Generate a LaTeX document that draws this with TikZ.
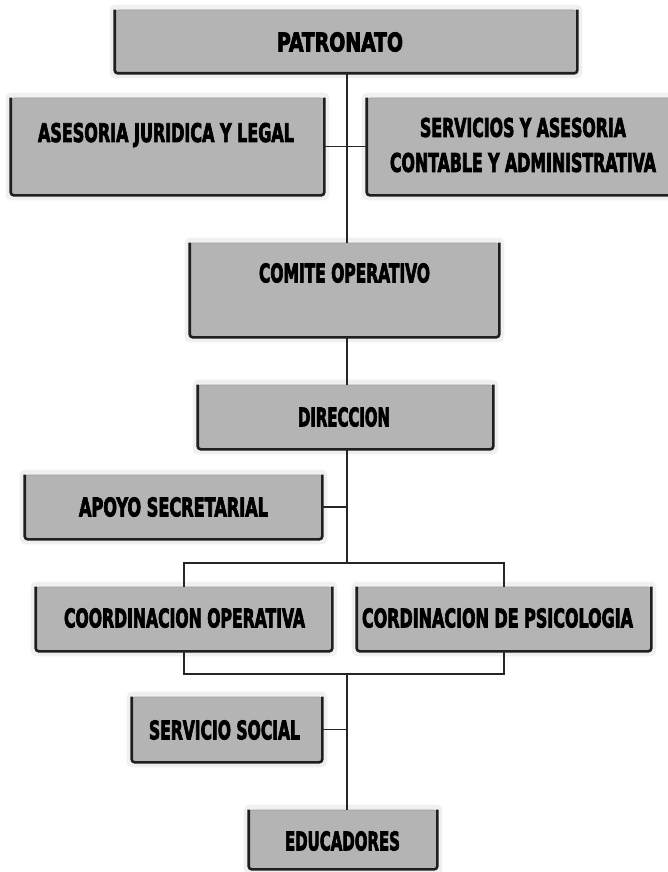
\documentclass[tikz,border=0pt]{standalone}
\usepackage{fontspec}
\usepackage{graphicx}
\usetikzlibrary{backgrounds}
\newfontfamily\boxfont[FakeBold=3.5]{DejaVu Sans Condensed Bold}
\newcommand{\lbl}[2]{\resizebox{#1pt}{19pt}{\boxfont #2}}
\definecolor{boxgray}{RGB}{180,180,180}
\begin{document}
\begin{tikzpicture}[x=1pt,y=-1pt,
  box/.style={fill=boxgray, draw=gray!75, line width=0.6pt, rounded corners=3pt, inner sep=0pt},
  boxedge/.style={line width=2.6pt, draw=black!88, rounded corners=3pt},
  halo/.style={fill=black!6, rounded corners=5pt},
  txt/.style={inner sep=0pt, text=black},
  link/.style={line width=1.1pt, draw=black!85}]
\useasboundingbox (0,0) rectangle (668,872);
\clip (0,0) rectangle (668,872);

% boxes
\node[box, minimum width=462pt, minimum height=63pt] (pat) at (346,41.5) {};
\node[box, minimum width=313pt, minimum height=97pt] (ase) at (167.5,146.5) {};
\node[box, minimum width=304pt, minimum height=97pt] (ser) at (519,146.5) {};
\node[box, minimum width=309pt, minimum height=94pt] (com) at (344.5,290) {};
\node[box, minimum width=295pt, minimum height=64pt] (dir) at (345.5,417) {};
\node[box, minimum width=297pt, minimum height=64pt] (apo) at (173.5,507) {};
\node[box, minimum width=296pt, minimum height=64pt] (cop) at (184,619) {};
\node[box, minimum width=294pt, minimum height=64pt] (cps) at (504,619) {};
\node[box, minimum width=190pt, minimum height=65pt] (ssoc) at (227,729.5) {};
\node[box, minimum width=188pt, minimum height=59pt] (edu) at (343,839.5) {};

% faint halos and dark edges
\begin{scope}[on background layer]
\foreach \n in {pat,ase,ser,com,dir,apo,cop,cps,ssoc,edu}
  \fill[halo] ([shift={(-5,-5)}]\n.north west) rectangle ([shift={(5,5)}]\n.south east);
\end{scope}
\foreach \n in {pat,ase,ser,com,dir,apo,cop,cps,ssoc,edu}
  \draw[boxedge] (\n.north west) -- (\n.south west) -- (\n.south east) -- (\n.north east);

% texts
\node[txt] (patT) at (340,42) {\lbl{126}{PATRONATO}};
\node[txt] (aseT) at (166,135) {\lbl{256}{ASESORIA JURIDICA Y LEGAL}};
\node[txt] (serT1) at (523,127.5) {\lbl{206}{SERVICIOS Y ASESORIA}};
\node[txt] (serT2) at (523,162.5) {\lbl{266}{CONTABLE Y ADMINISTRATIVA}};
\node[txt] (comT) at (344.5,273) {\lbl{171}{COMITE OPERATIVO}};
\node[txt] (dirT) at (344,417) {\lbl{92}{DIRECCION}};
\node[txt] (apoT) at (173.5,507) {\lbl{189}{APOYO SECRETARIAL}};
\node[txt] (copT) at (184.5,618) {\lbl{241}{COORDINACION OPERATIVA}};
\node[txt] (cpsT) at (497.5,618) {\lbl{271}{CORDINACION DE PSICOLOGIA}};
\node[txt] (ssocT) at (224.5,730) {\lbl{151}{SERVICIO SOCIAL}};
\node[txt] (eduT) at (342.5,841) {\lbl{115}{EDUCADORES}};

% connectors
\coordinate (bus1) at (347,563);
\coordinate (bus2) at (347,674);
\draw[link] ([xshift=1pt]pat.south) -- (bus1 |- com.north);
\draw[link] (ase.east) -- (ser.west);
\draw[link] (bus1 |- com.south) -- (bus1 |- dir.north);
\draw[link] (bus1 |- dir.south) -- (bus1);
\draw[link] (apo.east) -- (apo.east -| bus1);
\draw[link] (cop.north) |- (bus1) -| (cps.north);
\draw[link] (cop.south) |- (bus2) -| (cps.south);
\draw[link] (bus2) -- (bus2 |- edu.north);
\draw[link] (ssoc.east) -- (ssoc.east -| bus2);
\end{tikzpicture}
\end{document}
